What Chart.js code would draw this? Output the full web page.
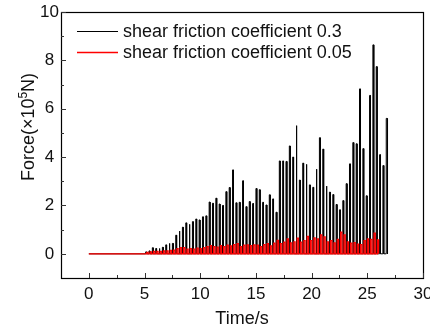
<!DOCTYPE html>
<html>
<head>
<meta charset="utf-8">
<script src="https://cdn.jsdelivr.net/npm/chart.js@4.4.1/dist/chart.umd.min.js"></script>
<style>
  html, body { margin: 0; padding: 0; background: #fff; }
  canvas { display: block; }
</style>
</head>
<body>
<canvas id="chart" width="430" height="333"></canvas>
<script>
// axis ticks
const xTicks = [0, 5, 10, 15, 20, 25, 30];
const xMinor = [2.5, 7.5, 12.5, 17.5, 22.5, 27.5];
const yTicks = [0, 2, 4, 6, 8, 10];
const yMinor = [1, 3, 5, 7, 9];

const seriesNames = ['shear friction coefficient 0.3', 'shear friction coefficient 0.05'];

// shear friction coefficient 0.3 : force peaks (x10^5 N)
const blackTimes = [5.1, 5.4, 5.7, 6.0, 6.3, 6.6, 6.9, 7.2, 7.5, 7.8,
  8.1, 8.4, 8.7, 9.0, 9.3, 9.6, 9.9, 10.2, 10.5, 10.8,
  11.1, 11.4, 11.7, 12.0, 12.3, 12.6, 12.9, 13.2, 13.5, 13.8,
  14.1, 14.4, 14.7, 15.0, 15.3, 15.6, 15.9, 16.2, 16.5, 16.8,
  17.1, 17.4, 17.7, 18.0, 18.3, 18.6, 18.9, 19.2, 19.5, 19.8,
  20.1, 20.4, 20.7, 21.0, 21.3, 21.6, 21.9, 22.2, 22.5, 22.8,
  23.1, 23.4, 23.7, 24.0, 24.3, 24.6, 24.9, 25.2, 25.5, 25.8,
  26.1, 26.4, 26.7];
const blackPeaks = [0.08, 0.12, 0.25, 0.22, 0.22, 0.27, 0.37, 0.43, 0.43, 0.77,
  0.94, 1.1, 1.28, 1.22, 1.33, 1.44, 1.4, 1.53, 1.57, 2.14,
  2.09, 2.3, 2.06, 2.0, 2.57, 2.74, 3.47, 2.11, 2.13, 3.02,
  1.95, 2.16, 2.08, 2.7, 2.65, 2.13, 2.02, 2.44, 2.27, 1.72,
  3.84, 3.84, 3.82, 4.46, 4.0, 5.3, 3.05, 3.75, 3.7, 2.85,
  2.75, 3.5, 4.8, 4.33, 2.8, 2.55, 2.45, 2.04, 1.82, 2.2,
  2.9, 3.72, 4.6, 4.55, 6.82, 4.35, 2.4, 6.55, 8.64, 7.74,
  4.1, 3.65, 5.6];
const blackStart = 0;
const blackEnd = 26.85;

// shear friction coefficient 0.05
const redTimes = [5.2, 5.5, 5.8, 6.1, 6.4, 6.7, 7.0, 7.3, 7.6, 7.9,
  8.2, 8.5, 8.8, 9.1, 9.4, 9.7, 10.0, 10.3, 10.6, 10.9,
  11.2, 11.5, 11.8, 12.1, 12.4, 12.7, 13.0, 13.3, 13.6, 13.9,
  14.2, 14.5, 14.8, 15.1, 15.4, 15.7, 16.0, 16.3, 16.6, 16.9,
  17.2, 17.5, 17.8, 18.1, 18.4, 18.7, 19.0, 19.3, 19.6, 19.9,
  20.2, 20.5, 20.8, 21.1, 21.4, 21.7, 22.0, 22.3, 22.6, 22.9,
  23.2, 23.5, 23.8, 24.1, 24.4, 24.7, 25.0, 25.3, 25.6, 25.9];
const redPeaks = [0.06, 0.08, 0.1, 0.1, 0.1, 0.12, 0.12, 0.14, 0.15, 0.22,
  0.26, 0.26, 0.2, 0.22, 0.2, 0.24, 0.22, 0.26, 0.3, 0.34,
  0.3, 0.28, 0.34, 0.3, 0.36, 0.33, 0.38, 0.42, 0.3, 0.36,
  0.37, 0.34, 0.37, 0.36, 0.3, 0.38, 0.42, 0.33, 0.44, 0.56,
  0.42, 0.48, 0.62, 0.45, 0.5, 0.65, 0.48, 0.55, 0.72, 0.55,
  0.66, 0.62, 0.78, 0.7, 0.5, 0.55, 0.45, 0.6, 0.9, 0.78,
  0.5, 0.44, 0.46, 0.4, 0.38, 0.55, 0.62, 0.6, 0.86, 0.58];
const redStart = 0;
const redEnd = 26.0;

// turn spike list into a trace: baseline, up, across, down
function spikeTrace(times, peaks, start, end, w) {
  const pts = [{ x: start, y: 0 }];
  times.forEach((t, i) => {
    pts.push({ x: t, y: 0 }, { x: t, y: peaks[i] }, { x: t + w, y: peaks[i] }, { x: t + w, y: 0 });
  });
  pts.push({ x: end, y: 0 });
  return pts;
}

const FONT = '"Liberation Sans", Arial, Helvetica, sans-serif';

const framePlugin = {
  id: 'frame',
  afterDraw(chart) {
    const { ctx, chartArea: a, scales: { x, y } } = chart;
    ctx.save();
    ctx.strokeStyle = '#000';
    ctx.lineWidth = 1.2;
    ctx.strokeRect(Math.round(a.left) + 0.5, Math.round(a.top) + 0.5,
      Math.round(a.right - a.left), Math.round(a.bottom - a.top));

    // inward ticks
    ctx.lineWidth = 1;
    ctx.strokeStyle = '#333';
    ctx.beginPath();
    xTicks.forEach(v => {
      const px = Math.round(x.getPixelForValue(v)) + 0.5;
      ctx.moveTo(px, a.bottom); ctx.lineTo(px, a.bottom - 5);
    });
    xMinor.forEach(v => {
      const px = Math.round(x.getPixelForValue(v)) + 0.5;
      ctx.moveTo(px, a.bottom); ctx.lineTo(px, a.bottom - 3);
    });
    yTicks.forEach(v => {
      const py = Math.round(y.getPixelForValue(v)) + 0.5;
      ctx.moveTo(a.left, py); ctx.lineTo(a.left + 5, py);
    });
    yMinor.forEach(v => {
      const py = Math.round(y.getPixelForValue(v)) + 0.5;
      ctx.moveTo(a.left, py); ctx.lineTo(a.left + 3, py);
    });
    ctx.stroke();

    // legend
    const colors = ['#000', '#ff0000'];
    ctx.font = '18px ' + FONT;
    ctx.textBaseline = 'middle';
    ctx.fillStyle = '#111';
    seriesNames.forEach((name, i) => {
      const ly = 31 + i * 21;
      ctx.strokeStyle = colors[i];
      ctx.lineWidth = i ? 1.5 : 1.2;
      ctx.beginPath();
      ctx.moveTo(77, ly + 0.5); ctx.lineTo(118, ly + 0.5);
      ctx.stroke();
      ctx.fillText(name, 123, ly + 1);
    });

    // y axis title with superscript
    const big = '18px ' + FONT, small = '12px ' + FONT;
    const parts = [['Force(\u00d710', big, 0], ['5', small, -7], ['N)', big, 0]];
    let total = 0;
    parts.forEach(p => { ctx.font = p[1]; total += ctx.measureText(p[0]).width; });
    ctx.translate(34, 127);
    ctx.rotate(-Math.PI / 2);
    ctx.textBaseline = 'alphabetic';
    ctx.textAlign = 'left';
    let cx = -total / 2;
    parts.forEach(p => {
      ctx.font = p[1];
      ctx.fillText(p[0], cx, p[2]);
      cx += ctx.measureText(p[0]).width;
    });
    ctx.restore();
  }
};

new Chart(document.getElementById('chart'), {
  type: 'line',
  data: {
    datasets: [
      {
        label: seriesNames[0],
        data: spikeTrace(blackTimes, blackPeaks, blackStart, blackEnd, 0.08),
        borderColor: '#000',
        borderWidth: 1,
        pointRadius: 0,
        tension: 0,
        order: 2
      },
      {
        label: seriesNames[1],
        data: spikeTrace(redTimes, redPeaks, redStart, redEnd, 0.12),
        borderColor: '#ff0000',
        borderWidth: 1.2,
        pointRadius: 0,
        tension: 0,
        order: 1
      }
    ]
  },
  options: {
    responsive: false,
    devicePixelRatio: 1,
    animation: false,
    events: [],
    layout: { padding: { left: 0, top: 12, right: 7, bottom: 0 } },
    plugins: { legend: { display: false }, tooltip: { enabled: false } },
    scales: {
      x: {
        type: 'linear',
        min: -2.5,
        max: 30,
        grid: { display: false, drawTicks: false },
        border: { display: false },
        ticks: { font: { family: FONT, size: 17 }, color: '#111', padding: 6, maxRotation: 0 },
        title: { display: true, text: 'Time/s', font: { family: FONT, size: 18 }, color: '#111', padding: { top: 0, bottom: 3 } },
        afterBuildTicks: s => { s.ticks = xTicks.map(v => ({ value: v })); },
        afterFit: s => { s.height = 55; s.paddingLeft = 0; s.paddingRight = 0; }
      },
      y: {
        type: 'linear',
        min: -1,
        max: 10,
        grid: { display: false, drawTicks: false },
        border: { display: false },
        ticks: { font: { family: FONT, size: 17 }, color: '#111', padding: 2, crossAlign: 'center' },
        afterBuildTicks: s => { s.ticks = yTicks.map(v => ({ value: v })); },
        afterFit: s => { s.width = 61; s.paddingTop = 0; s.paddingBottom = 0; }
      }
    }
  },
  plugins: [framePlugin]
});
</script>
</body>
</html>
